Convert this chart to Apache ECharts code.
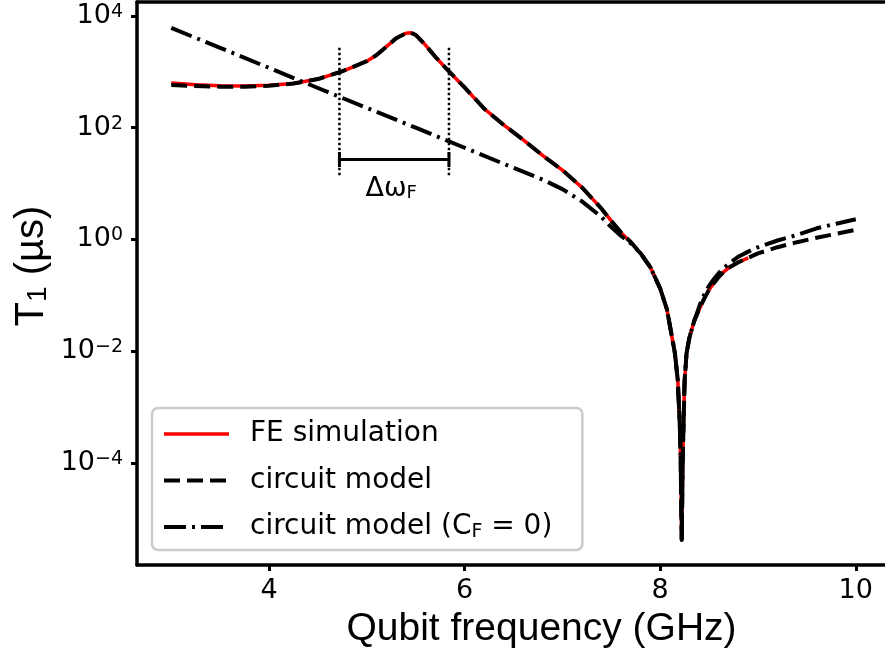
<!DOCTYPE html>
<html>
<head>
<meta charset="utf-8">
<script src="https://cdn.jsdelivr.net/npm/echarts@6/dist/echarts.min.js"></script>
<style>
  html, body { margin: 0; background: #fff; }
  #chart { width: 885px; height: 655px; }
</style>
</head>
<body>
<div id="chart"></div>
<script>
// values (GHz, µs)
const freqModel = [3.0, 3.25, 3.5, 3.75, 4.0, 4.25, 4.5, 4.75, 5.0, 5.1, 5.2, 5.3, 5.4, 5.45, 5.5, 5.6, 5.7, 5.8, 5.9, 6.0, 6.2, 6.4, 6.6, 6.8, 7.0, 7.2, 7.4, 7.5, 7.6, 7.7, 7.8, 7.9, 8.0, 8.07, 8.12, 8.15, 8.18, 8.2, 8.21, 8.22, 8.23, 8.24, 8.25, 8.27, 8.3, 8.35, 8.41, 8.45, 8.5, 8.55, 8.6, 8.65, 8.7, 8.8, 8.9, 9.0, 9.2, 9.4, 9.6, 9.8, 10.0]
const t1Model = [582, 556, 543, 543, 562, 617, 741, 1023, 1549, 1995, 2818, 3981, 4898, 5012, 4571, 3020, 1862, 1202, 794, 525, 219, 112, 60.3, 31.6, 17.4, 8.51, 3.55, 2.14, 1.32, 0.891, 0.562, 0.316, 0.132, 0.055, 0.018, 0.0093, 0.003, 0.0005, 0.0001, 0.0000042, 0.0001, 0.00063, 0.003, 0.0093, 0.0178, 0.0355, 0.0617, 0.087, 0.126, 0.166, 0.214, 0.263, 0.309, 0.389, 0.468, 0.562, 0.724, 0.891, 1.07, 1.26, 1.48]

const freqFE = [3.0, 3.25, 3.5, 3.75, 4.0, 4.25, 4.5, 4.75, 5.0, 5.1, 5.2, 5.3, 5.4, 5.45, 5.5, 5.6, 5.7, 5.8, 5.9, 6.0, 6.2, 6.4, 6.6, 6.8, 7.0, 7.2, 7.4, 7.5, 7.6, 7.7, 7.8, 7.9, 8.0, 8.07, 8.12, 8.15, 8.18, 8.2, 8.21, 8.22, 8.23, 8.24, 8.25, 8.27, 8.3, 8.35, 8.41, 8.45, 8.5, 8.55, 8.6, 8.65, 8.7, 8.8, 8.9]
const t1FE = [631, 589, 562, 556, 575, 617, 741, 1023, 1549, 1995, 2818, 3981, 4898, 5012, 4571, 3020, 1862, 1202, 794, 525, 219, 112, 60.3, 31.6, 17.4, 8.51, 3.55, 2.14, 1.32, 0.891, 0.562, 0.316, 0.132, 0.055, 0.018, 0.0093, 0.003, 0.0005, 0.0001, 0.0000042, 0.0001, 0.00063, 0.003, 0.0093, 0.0178, 0.0355, 0.0617, 0.087, 0.126, 0.166, 0.214, 0.263, 0.309, 0.389, 0.468]

const freqCF0 = [3.0, 3.5, 4.0, 4.5, 5.0, 5.5, 6.0, 6.5, 6.8, 7.0, 7.2, 7.4, 7.5, 7.6, 7.7, 7.8, 7.9, 8.0, 8.07, 8.12, 8.15, 8.18, 8.2, 8.21, 8.22, 8.23, 8.24, 8.25, 8.27, 8.3, 8.35, 8.41, 8.45, 8.5, 8.55, 8.6, 8.65, 8.7, 8.8, 8.9, 9.0, 9.2, 9.4, 9.6, 9.8, 10.0]
const t1CF0 = [6095, 2692, 1175, 513, 226, 100, 43.7, 19.1, 11.7, 7.94, 4.79, 2.51, 1.66, 1.15, 0.851, 0.562, 0.316, 0.132, 0.055, 0.018, 0.0093, 0.003, 0.0005, 0.0001, 0.0000042, 0.0001, 0.00063, 0.003, 0.0093, 0.0178, 0.0355, 0.0708, 0.102, 0.148, 0.195, 0.251, 0.309, 0.363, 0.490, 0.603, 0.724, 0.955, 1.20, 1.58, 1.91, 2.29]

// Δω_F annotation
const bandEdges = [4.72, 5.84]
const bandSpan = [2690, 14.1]
const bandLevel = 26.9
const bandLabelAt = 5.25

const xRange = [2.65, 10.35]
const yExpRange = [-5.83, 4.25] // decades shown on the axis

const names = ['FE simulation', 'circuit model', 'circuit model (CF = 0)']

const tickFont = 'DejaVu Sans'
const nameFont = 'Liberation Sans'
const pairs = (xs, ys) => xs.map((x, i) => [x, ys[i]])
const spine = { show: true, onZero: false, lineStyle: { color: '#000', width: 3.5 } }

const chart = echarts.init(document.getElementById('chart'))

const option = {
  animation: false,
  grid: {
    left: 137,
    top: 2,
    right: -5,
    bottom: 90,
    outerBoundsMode: 'none'
  },
  xAxis: [
    {
      type: 'value',
      min: xRange[0],
      max: xRange[1],
      minInterval: 2,
      maxInterval: 2,
      name: 'Qubit frequency (GHz)',
      nameLocation: 'middle',
      nameGap: 45,
      nameTextStyle: {
        fontFamily: nameFont,
        fontSize: 39,
        color: '#000',
        padding: [0, 0, 0, 56]
      },
      axisLine: spine,
      axisTick: { length: 6, lineStyle: { width: 3, color: '#000' } },
      axisLabel: {
        showMinLabel: false,
        showMaxLabel: false,
        margin: 12,
        fontFamily: tickFont,
        fontSize: 27,
        color: '#000'
      },
      splitLine: { show: false }
    },
    {
      // top spine only
      type: 'value',
      position: 'top',
      min: xRange[0],
      max: xRange[1],
      axisLine: spine,
      axisTick: { show: false },
      axisLabel: { show: false },
      splitLine: { show: false }
    }
  ],
  yAxis: [
    {
      // data axis
      type: 'log',
      min: Math.pow(10, yExpRange[0]),
      max: Math.pow(10, yExpRange[1]),
      name: '{m|T}{s|1}{m| (µs)}',
      nameLocation: 'middle',
      nameGap: 85,
      nameTextStyle: {
        padding: [0, 0, 0, 35],
        rich: {
          m: { fontFamily: nameFont, fontSize: 40, color: '#000' },
          s: { fontFamily: nameFont, fontSize: 28, color: '#000', verticalAlign: 'bottom' }
        }
      },
      axisLine: spine,
      axisTick: { show: false },
      axisLabel: { show: false },
      splitLine: { show: false }
    },
    {
      // tick labels every two decades
      type: 'value',
      position: 'left',
      min: yExpRange[0],
      max: yExpRange[1],
      minInterval: 2,
      maxInterval: 2,
      axisLine: { show: false, onZero: false },
      axisTick: { length: 6, lineStyle: { width: 3, color: '#000' } },
      axisLabel: {
        showMinLabel: false,
        showMaxLabel: false,
        margin: 14,
        formatter: (v) => '{b|10}{s|' + (v < 0 ? '\u2212' + (-v) : v) + '}',
        rich: {
          b: { fontFamily: tickFont, fontSize: 27, color: '#000' },
          s: { fontFamily: tickFont, fontSize: 19, color: '#000', verticalAlign: 'top' }
        }
      },
      splitLine: { show: false }
    }
  ],
  legend: {
    data: names,
    orient: 'vertical',
    left: 152,
    top: 408,
    itemWidth: 65,
    itemHeight: 2,
    itemGap: 16.5,
    padding: [11, 30, 8, 10],
    backgroundColor: 'rgba(255,255,255,0.8)',
    borderColor: '#cccccc',
    borderWidth: 2.5,
    borderRadius: 6,
    selectedMode: false,
    itemStyle: { color: 'rgba(0,0,0,0)', borderWidth: 0, opacity: 0 },
    lineStyle: { width: 'inherit' },
    formatter: (name) =>
      name === names[2]
        ? '{t|circuit model (C}{s|F}{t| = 0)}'
        : '{t|' + name + '}',
    textStyle: {
      height: 30,
      lineHeight: 30,
      padding: [0, 0, 0, 16],
      rich: {
        t: { fontFamily: tickFont, fontSize: 28, color: '#000', lineHeight: 30 },
        s: { fontFamily: tickFont, fontSize: 19, color: '#000', lineHeight: 30, verticalAlign: 'bottom' }
      }
    }
  },
  series: [
    {
      name: names[0],
      type: 'line',
      data: pairs(freqFE, t1FE),
      symbol: 'none',
      silent: true,
      z: 2,
      itemStyle: { color: '#ff0000' },
      lineStyle: { color: '#ff0000', width: 3.5, join: 'round' }
    },
    {
      name: names[1],
      type: 'line',
      data: pairs(freqModel, t1Model),
      symbol: 'none',
      silent: true,
      z: 3,
      itemStyle: { color: '#000' },
      lineStyle: { color: '#000', width: 4, type: [16, 7], join: 'round' }
    },
    {
      name: names[2],
      type: 'line',
      data: pairs(freqCF0, t1CF0),
      symbol: 'none',
      silent: true,
      z: 4,
      itemStyle: { color: '#000' },
      lineStyle: { color: '#000', width: 4, type: [22, 6, 3, 6], join: 'round' }
    },
    ...bandEdges.map((e) => ({
      type: 'line',
      data: [[e, bandSpan[0]], [e, bandSpan[1]]],
      symbol: 'none',
      silent: true,
      z: 5,
      lineStyle: { color: '#000', width: 2.5, type: [2.5, 2.5] }
    })),
    {
      type: 'line',
      data: [[bandEdges[0], bandLevel], [bandEdges[1], bandLevel]],
      symbol: 'rect',
      symbolSize: [3, 15],
      showSymbol: true,
      silent: true,
      z: 5,
      itemStyle: { color: '#000' },
      lineStyle: { color: '#000', width: 3 }
    },
    {
      type: 'scatter',
      data: [[bandLabelAt, bandLevel]],
      symbolSize: 0,
      silent: true,
      z: 6,
      itemStyle: { opacity: 1, color: '#000' },
      label: {
        show: true,
        position: 'bottom',
        distance: 16,
        color: '#000',
        opacity: 1,
        formatter: '{t|Δω}{s|F}',
        rich: {
          t: { fontFamily: tickFont, fontSize: 27, color: '#000' },
          s: { fontFamily: tickFont, fontSize: 18, color: '#000', verticalAlign: 'bottom' }
        }
      }
    }
  ]
}

chart.setOption(option)
window.addEventListener('resize', () => chart.resize())
</script>
</body>
</html>
